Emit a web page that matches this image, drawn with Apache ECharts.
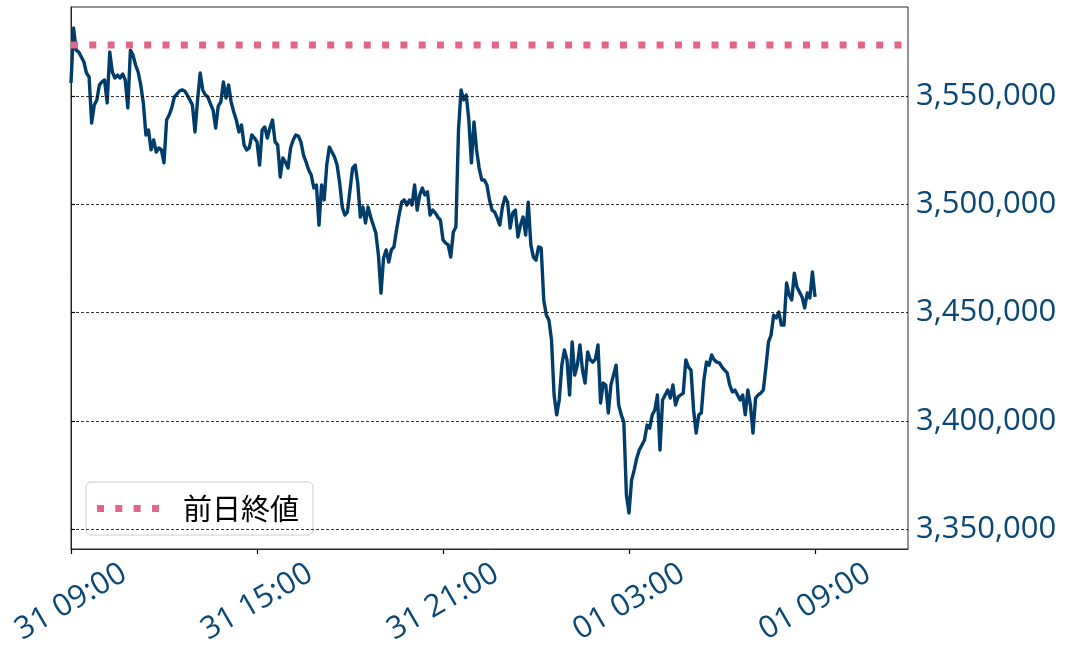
<!DOCTYPE html>
<html>
<head>
<meta charset="utf-8">
<script src="https://cdn.jsdelivr.net/npm/echarts@6/dist/echarts.min.js"></script>
<style>
html,body{margin:0;padding:0;background:#ffffff;}
#chart{width:1070px;height:655px;}
</style>
</head>
<body>
<div id="chart"></div>
<script>
// ---- data ----
const tickHours = [0, 6, 12, 18, 24];
const tickLabels = ['31 09:00', '31 15:00', '31 21:00', '01 03:00', '01 09:00'];
const yTickValues = [3350000, 3400000, 3450000, 3500000, 3550000];
const stepMinutes = 5; // price sampled every 5 minutes from 31 09:00
const prices = [
  3556000, 3581400, 3571200, 3570300, 3568000, 3565700, 3560600, 3558800, 3537500, 3545800,
  3548200, 3555100, 3556500, 3557400, 3546800, 3570300, 3561100, 3558300, 3559700, 3558300,
  3560200, 3557400, 3544500, 3571200, 3568900, 3564300, 3561100, 3555100, 3546800, 3532000,
  3534300, 3525100, 3529700, 3524100, 3526000, 3525100, 3519100, 3538900, 3541200, 3544500,
  3549500, 3550900, 3552300, 3552800, 3552300, 3550500, 3548200, 3545800, 3533400, 3548200,
  3560600, 3552800, 3550500, 3549500, 3546300, 3543500, 3535200, 3545400, 3547200, 3556500,
  3549100, 3555100, 3547200, 3542600, 3538900, 3533400, 3536600, 3527400, 3525100, 3526000,
  3532000, 3530600, 3528800, 3518100, 3534300, 3535700, 3530600, 3535200, 3538900, 3528800,
  3527400, 3512600, 3521400, 3519500, 3516700, 3526000, 3529700, 3532000, 3531500, 3528800,
  3522700, 3519500, 3515800, 3513500, 3507500, 3508900, 3490400, 3508900, 3502000, 3518100,
  3526400, 3524100, 3521800, 3518100, 3509800, 3498700, 3495000, 3496400, 3506600, 3516700,
  3518100, 3509800, 3494100, 3498700, 3491300, 3498700, 3494100, 3490400, 3486700, 3476600,
  3459000, 3475200, 3478900, 3473300, 3478900, 3480300, 3488100, 3495000, 3501000, 3502000,
  3499700, 3502000, 3499700, 3508900, 3497300, 3504300, 3507500, 3504300, 3505700, 3495000,
  3497300, 3496000, 3494100, 3492700, 3483500, 3482100, 3481200, 3475600, 3487200, 3489500,
  3534300, 3552800, 3548200, 3550500, 3538900, 3519100, 3538000, 3525100, 3516700, 3511200,
  3511200, 3508900, 3502000, 3497300, 3496400, 3493600, 3490400, 3498700, 3503300, 3501000,
  3489000, 3496000, 3497300, 3484900, 3490400, 3494100, 3485800, 3501000, 3481200, 3475600,
  3474200, 3480300, 3479800, 3455800, 3448800, 3446500, 3437300, 3411900, 3402700, 3409600,
  3425700, 3432700, 3428100, 3411900, 3436400, 3421100, 3425700, 3435000, 3423400, 3417400,
  3431800, 3428100, 3427100, 3428500, 3435000, 3408200, 3417400, 3416500, 3403600, 3416500,
  3421100, 3425700, 3407300, 3402700, 3399400, 3365700, 3357400, 3372600, 3377200, 3382800,
  3386500, 3388800, 3391100, 3398000, 3396600, 3402700, 3405000, 3411900, 3386500, 3409600,
  3411900, 3414200, 3410500, 3416500, 3407300, 3411000, 3411900, 3412800, 3428100, 3424800,
  3423400, 3405000, 3394300, 3402700, 3403600, 3418800, 3427100, 3425700, 3430400, 3428100,
  3427100, 3426700, 3424800, 3423400, 3422100, 3416500, 3413300, 3414200, 3411900, 3409600,
  3411900, 3402700, 3414200, 3407300, 3394300, 3410500, 3411900, 3412800, 3414200, 3424800,
  3436400, 3439600, 3448800, 3447500, 3450200, 3444200, 3444200, 3463600, 3458100, 3455800,
  3468200, 3461800, 3459500, 3457200, 3452100, 3459000, 3456700, 3468700, 3457200
];
const prevCloseName = '前日終値';
const prevClose = 3573500;
const xMaxHours = 27;
const yMin = 3340762;
const yMax = 3591109;

// ---- build ----
const priceData = prices.map((p, i) => [i * stepMinutes / 60, p]);
const prevCloseData = [[0, prevClose], [xMaxHours, prevClose]];

const labelColor = '#0b4775';
const latinFont = "'Open Sans', 'Noto Sans', sans-serif";
const pink = '#e1668a';

const chart = echarts.init(document.getElementById('chart'), null, {renderer: 'canvas'});
chart.setOption({
  animation: false,
  backgroundColor: '#ffffff',
  grid: {
    left: 71, right: 162, top: 7, bottom: 106,
    show: true, borderColor: '#262626', borderWidth: 1, backgroundColor: 'transparent'
  },
  xAxis: {
    type: 'value',
    min: 0, max: xMaxHours, interval: 6,
    axisLine: {show: true, lineStyle: {color: '#262626', width: 1}},
    axisTick: {show: true, length: 5, lineStyle: {color: '#000', width: 1.2}, customValues: tickHours},
    splitLine: {show: false},
    axisLabel: {
      customValues: tickHours,
      rotate: 30,
      align: 'center',
      verticalAlign: 'middle',
      margin: 53,
      color: labelColor,
      fontFamily: latinFont,
      fontSize: 31,
      formatter: v => { const k = tickHours.indexOf(Math.round(v)); return k >= 0 ? tickLabels[k] : ''; }
    }
  },
  yAxis: {
    type: 'value',
    position: 'right',
    min: yMin, max: yMax,
    axisLine: {show: true, lineStyle: {color: '#262626', width: 1}},
    axisTick: {show: true, length: 4, lineStyle: {color: '#000', width: 1.2}, customValues: yTickValues},
    splitLine: {show: false},
    axisLabel: {
      customValues: yTickValues,
      margin: 8,
      color: labelColor,
      fontFamily: latinFont,
      fontSize: 31,
      formatter: v => Math.round(v).toLocaleString('en-US')
    }
  },
  legend: {
    data: [{name: prevCloseName,
            icon: 'path://M0,0h7v7h-7z M18.3,0h7v7h-7z M36.6,0h7v7h-7z M55,0h7v7h-7z',
            itemStyle: {color: pink}}],
    left: 86, top: 482,
    orient: 'vertical',
    padding: [11, 14, 11, 11],
    itemWidth: 62, itemHeight: 7,
    backgroundColor: 'rgba(255,255,255,0.8)',
    borderColor: '#cccccc', borderWidth: 1, borderRadius: 5,
    textStyle: {
      fontFamily: "'Noto Sans CJK JP', sans-serif",
      fontSize: 29, color: '#000', lineHeight: 31,
      padding: [0, 0, 0, 19]
    }
  },
  series: [
    {
      name: 'grid',
      type: 'line',
      data: [],
      silent: true,
      z: 1,
      markLine: {
        silent: true,
        symbol: 'none',
        label: {show: false},
        lineStyle: {color: '#000', width: 0.8, type: [3, 2]},
        data: yTickValues.map(v => ({yAxis: v}))
      }
    },
    {
      name: 'price',
      type: 'line',
      data: priceData,
      showSymbol: false,
      symbol: 'none',
      z: 3,
      lineStyle: {color: '#003d6b', width: 3.4, join: 'round'}
    },
    {
      name: prevCloseName,
      type: 'line',
      data: prevCloseData,
      showSymbol: false,
      symbol: 'none',
      z: 4,
      lineStyle: {color: pink, width: 7, type: [7, 11.3], cap: 'butt'},
      itemStyle: {color: pink}
    }
  ]
});
</script>
</body>
</html>
